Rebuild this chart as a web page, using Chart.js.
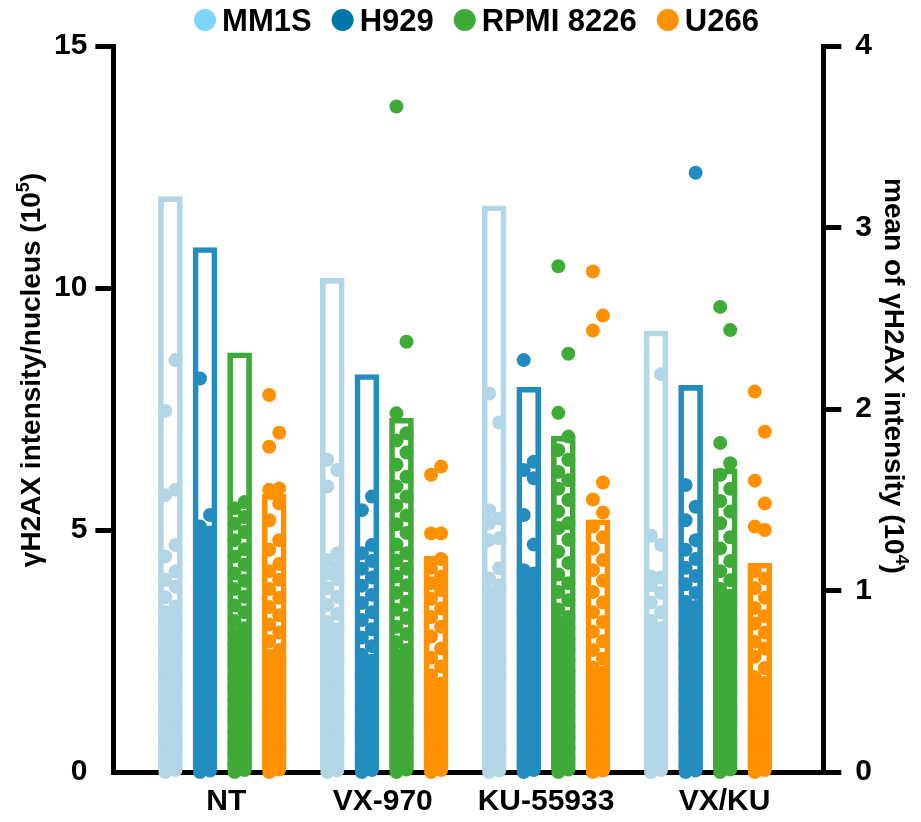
<!DOCTYPE html>
<html>
<head>
<meta charset="utf-8">
<script src="https://cdn.jsdelivr.net/npm/chart.js@4.4.1/dist/chart.umd.min.js"></script>
<style>
  html, body { margin: 0; padding: 0; background: #ffffff; }
  #wrap { width: 921px; height: 822px; }
</style>
</head>
<body>
<div id="wrap"><canvas id="chart" width="921" height="822"></canvas></div>
<script>
// Treatment groups and cell lines
const categories = ['NT', 'VX-970', 'KU-55933', 'VX/KU'];
const seriesNames = ['MM1S', 'H929', 'RPMI 8226', 'U266'];
const leftTicks = [0, 5, 10, 15];
const rightTicks = [0, 1, 2, 3, 4];

// Mean γH2AX intensity per group (10^4), right axis
const meanMM1S = [3.17, 2.72, 3.12, 2.43];
const meanH929 = [2.89, 2.19, 2.12, 2.13];
const meanRPMI = [2.31, 1.95, 1.85, 1.67];
const meanU266 = [1.53, 1.19, 1.39, 1.15];

// Per-nucleus γH2AX intensity (10^5), left axis
const mm1sNT = [0, 0.04, 0.13, 0.25, 0.36, 0.46, 0.58, 0.7, 0.79, 0.91, 1.03, 1.12, 1.24, 1.36, 1.45, 1.57, 1.69, 1.8, 1.9, 2.02, 2.14, 2.23, 2.35, 2.47, 2.58, 2.68, 2.8, 2.92, 3.03, 3.15, 3.3, 3.42, 3.61, 3.83, 3.97, 4.14, 4.45, 4.69, 5.72, 5.83, 7.46, 8.51];
const h929NT = [0, 0.03, 0.12, 0.24, 0.35, 0.47, 0.57, 0.69, 0.81, 0.9, 1.02, 1.14, 1.25, 1.35, 1.47, 1.59, 1.68, 1.8, 1.92, 2.03, 2.13, 2.25, 2.37, 2.46, 2.58, 2.7, 2.81, 2.91, 3.03, 3.15, 3.26, 3.36, 3.48, 3.6, 3.71, 3.81, 3.93, 4.05, 4.16, 4.26, 4.38, 4.5, 4.61, 4.72, 4.83, 4.95, 5.07, 5.31, 8.13];
const rpmiNT = [0, 0.04, 0.14, 0.26, 0.37, 0.48, 0.6, 0.71, 0.83, 0.93, 1.05, 1.17, 1.28, 1.38, 1.5, 1.62, 1.73, 1.83, 1.95, 2.07, 2.18, 2.28, 2.4, 2.52, 2.63, 2.73, 2.85, 2.97, 3.12, 3.3, 3.44, 3.62, 3.78, 3.95, 4.1, 4.28, 4.45, 4.6, 4.79, 4.96, 5.13, 5.27, 5.45, 5.58];
const u266NT = [0, 0.05, 0.15, 0.26, 0.38, 0.49, 0.59, 0.71, 0.83, 0.94, 1.04, 1.16, 1.28, 1.39, 1.49, 1.61, 1.73, 1.84, 1.94, 2.06, 2.18, 2.29, 2.4, 2.52, 2.7, 2.88, 3.05, 3.24, 3.41, 3.6, 3.78, 3.97, 4.15, 4.3, 4.59, 4.79, 5.2, 5.55, 5.83, 5.86, 6.72, 7.01, 7.79];

const mm1sVX = [0, 0.03, 0.12, 0.24, 0.35, 0.46, 0.58, 0.69, 0.8, 0.91, 1.03, 1.15, 1.25, 1.37, 1.49, 1.6, 1.7, 1.82, 1.94, 2.05, 2.15, 2.27, 2.39, 2.5, 2.6, 2.72, 2.84, 2.95, 3.1, 3.27, 3.45, 3.62, 3.8, 3.98, 4.1, 4.24, 4.38, 4.52, 5.9, 6.24, 6.45];
const h929VX = [0, 0.04, 0.15, 0.27, 0.38, 0.49, 0.61, 0.73, 0.84, 0.94, 1.06, 1.18, 1.29, 1.39, 1.51, 1.63, 1.74, 1.84, 1.96, 2.08, 2.19, 2.3, 2.42, 2.6, 2.78, 2.95, 3.14, 3.3, 3.49, 3.66, 3.85, 4.02, 4.2, 4.36, 4.52, 4.69, 5.41, 5.69];
const rpmiVX = [0, 0.05, 0.14, 0.25, 0.37, 0.48, 0.59, 0.71, 0.83, 0.93, 1.05, 1.17, 1.27, 1.39, 1.51, 1.62, 1.72, 1.84, 1.96, 2.07, 2.17, 2.29, 2.41, 2.52, 2.68, 2.85, 3.0, 3.18, 3.35, 3.52, 3.7, 3.86, 4.04, 4.2, 4.37, 4.52, 4.7, 4.94, 5.12, 5.3, 5.5, 5.69, 5.9, 6.1, 6.35, 6.6, 6.85, 7.0, 7.41, 8.89, 13.75];
const u266VX = [0, 0.04, 0.13, 0.25, 0.36, 0.47, 0.59, 0.7, 0.82, 0.92, 1.04, 1.16, 1.27, 1.37, 1.49, 1.61, 1.72, 1.83, 2.0, 2.18, 2.36, 2.55, 2.8, 3.0, 3.2, 3.38, 3.58, 3.76, 3.9, 4.04, 4.22, 4.4, 4.93, 4.93, 6.14, 6.31];

const mm1sKU = [0, 0.03, 0.13, 0.24, 0.36, 0.47, 0.57, 0.69, 0.81, 0.92, 1.02, 1.14, 1.26, 1.37, 1.47, 1.59, 1.71, 1.82, 1.92, 2.04, 2.16, 2.27, 2.37, 2.49, 2.61, 2.72, 2.82, 2.94, 3.06, 3.17, 3.27, 3.39, 3.51, 3.62, 3.72, 3.86, 4.0, 4.21, 4.79, 4.83, 5.14, 5.24, 5.41, 7.22, 7.82];
const h929KU = [0, 0.04, 0.14, 0.26, 0.37, 0.48, 0.6, 0.72, 0.83, 0.93, 1.05, 1.17, 1.28, 1.38, 1.5, 1.62, 1.73, 1.83, 1.95, 2.07, 2.18, 2.28, 2.4, 2.52, 2.63, 2.73, 2.85, 2.97, 3.08, 3.18, 3.3, 3.42, 3.53, 3.63, 3.75, 3.87, 3.98, 4.1, 4.17, 4.7, 5.31, 6.07, 6.24, 6.41, 8.51];
const rpmiKU = [0, 0.05, 0.15, 0.27, 0.38, 0.49, 0.61, 0.72, 0.84, 0.94, 1.06, 1.18, 1.29, 1.39, 1.51, 1.63, 1.74, 1.84, 1.96, 2.08, 2.19, 2.29, 2.41, 2.53, 2.64, 2.74, 2.86, 2.98, 3.09, 3.2, 3.36, 3.55, 3.72, 3.9, 4.08, 4.32, 4.55, 4.8, 5.04, 5.14, 5.38, 5.62, 5.85, 6.03, 6.2, 6.45, 6.65, 6.93, 7.42, 8.64, 10.45];
const u266KU = [0, 0.03, 0.12, 0.24, 0.35, 0.46, 0.58, 0.7, 0.81, 0.91, 1.03, 1.15, 1.26, 1.36, 1.48, 1.6, 1.71, 1.81, 1.93, 2.05, 2.16, 2.34, 2.52, 2.7, 2.9, 3.1, 3.3, 3.5, 3.72, 3.95, 4.17, 4.38, 4.62, 4.85, 5.07, 5.36, 5.63, 5.98, 9.12, 9.43, 10.34];

const mm1sVXKU = [0, 0.04, 0.14, 0.25, 0.37, 0.48, 0.6, 0.71, 0.83, 0.93, 1.05, 1.17, 1.28, 1.38, 1.5, 1.62, 1.73, 1.83, 1.95, 2.07, 2.18, 2.28, 2.4, 2.52, 2.63, 2.73, 2.85, 2.97, 3.12, 3.3, 3.5, 3.7, 3.86, 4.02, 4.04, 4.69, 4.88, 8.22];
const h929VXKU = [0, 0.03, 0.13, 0.25, 0.36, 0.47, 0.59, 0.71, 0.82, 0.92, 1.04, 1.16, 1.27, 1.37, 1.49, 1.61, 1.72, 1.82, 1.94, 2.06, 2.17, 2.27, 2.39, 2.51, 2.62, 2.72, 2.84, 2.96, 3.07, 3.17, 3.29, 3.41, 3.52, 3.7, 3.88, 4.05, 4.22, 4.4, 4.59, 4.79, 5.2, 5.48, 5.93, 12.38];
const rpmiVXKU = [0, 0.05, 0.14, 0.26, 0.38, 0.49, 0.6, 0.72, 0.84, 0.94, 1.05, 1.17, 1.29, 1.39, 1.5, 1.62, 1.74, 1.84, 1.95, 2.07, 2.19, 2.29, 2.4, 2.52, 2.64, 2.74, 2.85, 2.97, 3.09, 3.19, 3.3, 3.42, 3.54, 3.64, 3.78, 3.96, 4.15, 4.36, 4.62, 4.85, 5.14, 5.38, 5.6, 5.85, 6.14, 6.38, 6.8, 9.13, 9.61];
const u266VXKU = [0, 0.04, 0.15, 0.26, 0.37, 0.49, 0.6, 0.72, 0.83, 0.93, 1.05, 1.17, 1.28, 1.38, 1.5, 1.62, 1.73, 1.84, 1.96, 2.15, 2.38, 2.55, 2.69, 2.88, 3.07, 3.22, 3.39, 3.6, 3.8, 4.0, 4.15, 5.0, 5.07, 5.55, 6.02, 7.03, 7.86];

// Series grouping (one row per cell line, one column per treatment)
const means = [meanMM1S, meanH929, meanRPMI, meanU266];
const cellPoints = [
  [mm1sNT, mm1sVX, mm1sKU, mm1sVXKU],
  [h929NT, h929VX, h929KU, h929VXKU],
  [rpmiNT, rpmiVX, rpmiKU, rpmiVXKU],
  [u266NT, u266VX, u266KU, u266VXKU]
];

// Styling
const FONT = "'Liberation Sans', Arial, Helvetica, sans-serif";
const seriesColors = ['#b3d6e7', '#238cbf', '#3faa38', '#ff9100'];
const legendColors = ['#7fd4f9', '#0077a9', '#3faa38', '#ff9100'];
const SERIES_STEP = 0.2137;   // distance between cell-line columns inside a group (x units)
const JITTER = 0.031;         // sideways spread of the dots inside a column (x units)
const labelNudge = [0.025, -0.009, 0, 0.103]; // small sideways nudge of each group label (x units)

const barDatasets = means.map((vals, s) => ({
  type: 'bar',
  label: seriesNames[s] + ' mean',
  xAxisID: 'x',
  yAxisID: 'yR',
  data: vals.map((v, g) => ({ x: g + (s - 1.5) * SERIES_STEP, y: v })),
  backgroundColor: 'rgba(0,0,0,0)',
  borderColor: seriesColors[s],
  borderWidth: 5,
  borderSkipped: false,
  barThickness: 24,
  grouped: false,
  order: 2
}));

const dotDatasets = cellPoints.map((groups, s) => ({
  type: 'scatter',
  label: seriesNames[s],
  xAxisID: 'x',
  yAxisID: 'yL',
  data: groups.flatMap((vals, g) =>
    vals.slice().sort((a, b) => a - b).map((v, i) => ({
      x: g + (s - 1.5) * SERIES_STEP + (i % 2 ? JITTER : -JITTER),
      y: v
    }))
  ),
  pointRadius: 7,
  pointHoverRadius: 7,
  pointBorderWidth: 0,
  backgroundColor: seriesColors[s],
  borderColor: seriesColors[s],
  showLine: false,
  clip: false,
  order: 1
}));

// Legend drawn as a single centred row above the plot
const seriesLegend = {
  id: 'seriesLegend',
  afterDraw(chart) {
    const ctx = chart.ctx;
    ctx.save();
    ctx.font = 'bold 31px ' + FONT;
    ctx.textBaseline = 'middle';
    ctx.textAlign = 'left';
    const R = 11, GAP = 6, SPACE = 20;
    const widths = seriesNames.map(n => ctx.measureText(n).width);
    const total = widths.reduce((a, w) => a + 2 * R + GAP + w, 0) + SPACE * (seriesNames.length - 1);
    let x = chart.width / 2 + 16 - total / 2;
    seriesNames.forEach((name, i) => {
      ctx.fillStyle = legendColors[i];
      ctx.beginPath();
      ctx.arc(x + R, 20, R, 0, Math.PI * 2);
      ctx.fill();
      x += 2 * R + GAP;
      ctx.fillStyle = '#000';
      ctx.fillText(name, x, 22);
      x += widths[i] + SPACE;
    });
    ctx.restore();
  }
};

// Rotated axis titles with a superscript exponent
function drawTitle(ctx, main, sup, cx, cy, angle) {
  ctx.save();
  ctx.translate(cx, cy);
  ctx.rotate(angle);
  ctx.fillStyle = '#000';
  ctx.textBaseline = 'alphabetic';
  ctx.textAlign = 'left';
  const big = 'bold 28px ' + FONT;
  const small = 'bold 18px ' + FONT;
  ctx.font = big;
  const w1 = ctx.measureText(main).width;
  const w3 = ctx.measureText(')').width;
  ctx.font = small;
  const w2 = ctx.measureText(sup).width;
  let x = -(w1 + w2 + w3) / 2;
  ctx.font = big;
  ctx.fillText(main, x, 0);
  x += w1;
  ctx.font = small;
  ctx.fillText(sup, x, -11);
  x += w2;
  ctx.font = big;
  ctx.fillText(')', x, 0);
  ctx.restore();
}

const axisTitles = {
  id: 'axisTitles',
  afterDraw(chart) {
    const ctx = chart.ctx;
    const area = chart.chartArea;
    const midY = (area.top + area.bottom) / 2;
    drawTitle(ctx, 'γH2AX intensity/nucleus (10', '5', 40, midY - 39, -Math.PI / 2);
    drawTitle(ctx, 'mean of γH2AX intensity (10', '4', 885, midY - 33, Math.PI / 2);
  }
};

const tickFont = { family: FONT, size: 30, weight: 'bold' };

new Chart(document.getElementById('chart'), {
  type: 'scatter',
  data: { datasets: [...barDatasets, ...dotDatasets] },
  options: {
    responsive: false,
    animation: false,
    events: [],
    layout: { padding: { top: 46, left: 46, right: 35, bottom: -10 } },
    plugins: {
      legend: { display: false },
      tooltip: { enabled: false },
      title: { display: false }
    },
    scales: {
      x: {
        type: 'linear',
        offset: false,
        bounds: 'data',
        min: -0.673,
        max: 3.713,
        z: 1,
        afterBuildTicks: sc => { sc.ticks = categories.map((_, i) => ({ value: i + labelNudge[i] })); },
        ticks: {
          callback: (v, i) => categories[i],
          font: tickFont,
          color: '#000',
          padding: 12,
          autoSkip: false,
          maxRotation: 0
        },
        grid: { display: false, drawTicks: false, offset: false },
        border: { display: true, color: '#000', width: 5 }
      },
      yL: {
        type: 'linear',
        position: 'left',
        min: 0,
        max: 15,
        z: 1,
        afterBuildTicks: sc => { sc.ticks = leftTicks.map(v => ({ value: v })); },
        ticks: { font: tickFont, color: '#000', padding: 8 },
        grid: {
          drawOnChartArea: false,
          drawTicks: true,
          tickLength: 18,
          lineWidth: 5,
          tickWidth: 5,
          tickColor: c => (c.tick && c.tick.value === 0 ? 'rgba(0,0,0,0)' : '#000')
        },
        border: { display: true, color: '#000', width: 5 }
      },
      yR: {
        type: 'linear',
        position: 'right',
        min: 0,
        max: 4,
        z: 1,
        afterBuildTicks: sc => { sc.ticks = rightTicks.map(v => ({ value: v })); },
        ticks: { font: tickFont, color: '#000', padding: 14 },
        grid: {
          drawOnChartArea: false,
          drawTicks: true,
          tickLength: 18,
          lineWidth: 5,
          tickWidth: 5,
          tickColor: '#000'
        },
        border: { display: true, color: '#000', width: 5 }
      }
    }
  },
  plugins: [seriesLegend, axisTitles]
});
</script>
</body>
</html>
